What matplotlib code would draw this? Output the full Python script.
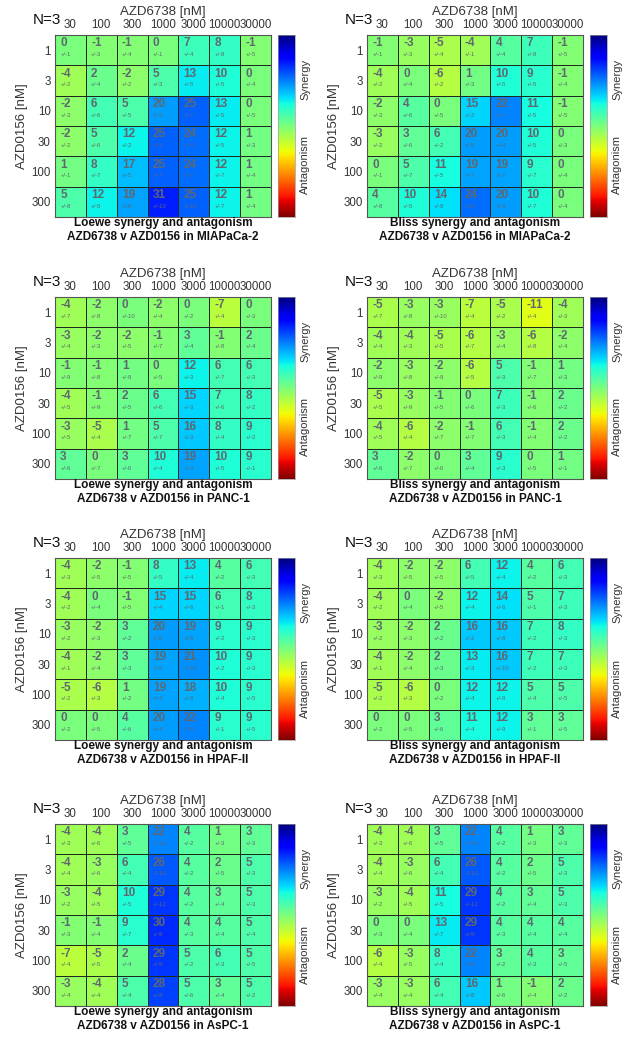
import numpy as np
import matplotlib
matplotlib.use('Agg')
import matplotlib.pyplot as plt

plt.rcParams['font.family'] = ['Liberation Sans', 'DejaVu Sans']

conc_x = ['30', '100', '300', '1000', '3000', '10000', '30000']
conc_y = ['1', '3', '10', '30', '100', '300']

# synergy scores (rows = AZD0156, cols = AZD6738) and their +/- errors
loewe_miapaca = [[0, -1, -1, 0, 7, 8, -1],
                 [-4, 2, -2, 5, 13, 10, 0],
                 [-2, 6, 5, 20, 25, 13, 0],
                 [-2, 5, 12, 25, 24, 12, 1],
                 [1, 8, 17, 25, 24, 12, 1],
                 [5, 12, 19, 31, 25, 12, 1]]
loewe_miapaca_err = [[1, 3, 4, 1, 4, 8, 5],
                     [2, 4, 2, 3, 5, 5, 4],
                     [3, 6, 5, 2, 7, 5, 5],
                     [2, 6, 2, 5, 4, 5, 3],
                     [1, 7, 5, 7, 7, 7, 4],
                     [8, 5, 8, 10, 10, 7, 4]]

bliss_miapaca = [[-1, -3, -5, -4, 4, 7, -1],
                 [-4, 0, -6, 1, 10, 9, -1],
                 [-2, 4, 0, 15, 22, 11, -1],
                 [-3, 3, 6, 20, 20, 10, 0],
                 [0, 5, 11, 19, 19, 9, 0],
                 [4, 10, 14, 24, 20, 10, 0]]
bliss_miapaca_err = [[1, 3, 4, 1, 4, 8, 5],
                     [2, 4, 2, 3, 5, 5, 4],
                     [3, 6, 5, 2, 7, 5, 5],
                     [2, 6, 2, 5, 4, 5, 3],
                     [1, 7, 5, 7, 7, 7, 4],
                     [8, 5, 8, 9, 9, 7, 4]]

loewe_panc = [[-4, -2, 0, -2, 0, -7, 0],
              [-3, -2, -2, -1, 3, -1, 2],
              [-1, -1, 1, 0, 12, 6, 6],
              [-4, -1, 2, 6, 15, 7, 8],
              [-3, -5, 1, 5, 16, 8, 9],
              [3, 0, 3, 10, 19, 10, 9]]
loewe_panc_err = [[7, 8, 10, 4, 2, 4, 3],
                  [4, 3, 5, 7, 4, 8, 4],
                  [9, 8, 9, 5, 3, 7, 3],
                  [5, 9, 5, 6, 3, 6, 2],
                  [5, 4, 7, 7, 3, 4, 2],
                  [6, 7, 6, 4, 3, 5, 1]]

bliss_panc = [[-5, -3, -3, -7, -5, -11, -4],
              [-4, -4, -5, -6, -3, -6, -2],
              [-2, -3, -2, -6, 5, -1, 1],
              [-5, -3, -1, 0, 7, -1, 2],
              [-4, -6, -2, -1, 6, -1, 2],
              [3, -2, 0, 3, 9, 0, 1]]
bliss_panc_err = [[7, 8, 10, 4, 2, 4, 3],
                  [4, 3, 5, 7, 4, 8, 4],
                  [9, 8, 9, 5, 3, 7, 3],
                  [5, 9, 5, 6, 3, 6, 2],
                  [5, 4, 7, 7, 3, 4, 2],
                  [6, 7, 6, 4, 3, 5, 1]]

loewe_hpaf = [[-4, -2, -1, 8, 13, 4, 6],
              [-4, 0, -1, 15, 15, 6, 8],
              [-3, -2, 3, 20, 19, 9, 9],
              [-4, -2, 3, 19, 21, 10, 9],
              [-5, -6, 1, 19, 18, 10, 9],
              [0, 0, 4, 20, 22, 9, 9]]
loewe_hpaf_err = [[3, 5, 5, 5, 4, 2, 3],
                  [2, 4, 5, 4, 6, 1, 3],
                  [2, 3, 2, 5, 6, 2, 3],
                  [1, 4, 3, 5, 10, 2, 3],
                  [2, 3, 2, 4, 9, 4, 5],
                  [2, 5, 6, 4, 9, 1, 5]]

bliss_hpaf = [[-4, -2, -2, 6, 12, 4, 6],
              [-4, 0, -2, 12, 14, 5, 7],
              [-3, -2, 2, 16, 16, 7, 8],
              [-4, -2, 2, 13, 16, 7, 7],
              [-5, -6, 0, 12, 12, 5, 5],
              [0, 0, 3, 11, 12, 3, 3]]
bliss_hpaf_err = [[3, 5, 5, 5, 4, 2, 3],
                  [2, 4, 5, 4, 6, 1, 3],
                  [2, 3, 2, 2, 8, 2, 3],
                  [1, 4, 3, 3, 10, 2, 3],
                  [2, 3, 2, 4, 9, 4, 5],
                  [2, 5, 6, 4, 9, 1, 5]]

loewe_aspc = [[-4, -4, 3, 22, 4, 1, 3],
              [-4, -3, 6, 26, 4, 2, 5],
              [-3, -4, 10, 29, 4, 3, 5],
              [-1, -1, 9, 30, 4, 4, 5],
              [-7, -5, 2, 29, 5, 6, 5],
              [-3, -4, 5, 28, 5, 3, 5]]
loewe_aspc_err = [[3, 6, 5, 10, 2, 3, 3],
                  [4, 6, 4, 10, 2, 5, 3],
                  [2, 5, 5, 12, 2, 4, 3],
                  [3, 4, 7, 9, 3, 4, 4],
                  [4, 5, 4, 9, 2, 3, 5],
                  [4, 4, 4, 8, 6, 4, 2]]

bliss_aspc = [[-4, -4, 3, 22, 4, 1, 3],
              [-4, -3, 6, 26, 4, 2, 5],
              [-3, -4, 11, 29, 4, 3, 5],
              [0, 0, 13, 29, 4, 4, 4],
              [-6, -3, 8, 22, 3, 4, 3],
              [-3, -3, 6, 16, 1, -1, 2]]
bliss_aspc_err = [[3, 6, 5, 10, 2, 3, 3],
                  [4, 6, 4, 10, 2, 5, 3],
                  [2, 5, 5, 12, 2, 4, 3],
                  [3, 4, 7, 9, 3, 4, 4],
                  [4, 5, 4, 9, 2, 3, 5],
                  [4, 4, 4, 8, 6, 4, 2]]

panels = [
    (loewe_miapaca, loewe_miapaca_err, 'Loewe', 'MIAPaCa-2'),
    (bliss_miapaca, bliss_miapaca_err, 'Bliss', 'MIAPaCa-2'),
    (loewe_panc, loewe_panc_err, 'Loewe', 'PANC-1'),
    (bliss_panc, bliss_panc_err, 'Bliss', 'PANC-1'),
    (loewe_hpaf, loewe_hpaf_err, 'Loewe', 'HPAF-II'),
    (bliss_hpaf, bliss_hpaf_err, 'Bliss', 'HPAF-II'),
    (loewe_aspc, loewe_aspc_err, 'Loewe', 'AsPC-1'),
    (bliss_aspc, bliss_aspc_err, 'Bliss', 'AsPC-1'),
]

W, H = 629, 1046
VMAX = 45
txt_col = '#5f6870'
lab_col = '#333333'

fig = plt.figure(figsize=(W / 100, H / 100), dpi=100)


def box(x0, y0, w, h):
    # pixel box (top-left origin) -> figure fraction
    return [x0 / W, 1 - (y0 + h) / H, w / W, h / H]


grid_left = [55, 367]
grid_top = [35, 297, 558, 824]
gw, gh = 216, 182

for i, (vals, errs, method, line) in enumerate(panels):
    x0 = grid_left[i % 2]
    y0 = grid_top[i // 2]
    vals = np.array(vals)
    errs = np.array(errs)

    ax = fig.add_axes(box(x0, y0, gw, gh))
    ax.pcolormesh(vals, cmap='jet_r', vmin=-VMAX, vmax=VMAX,
                  edgecolors='#1e2a1e', linewidth=0.7)
    ax.set_xlim(0, 7)
    ax.set_ylim(6, 0)
    for r in range(vals.shape[0]):
        for c in range(vals.shape[1]):
            ax.text(c + 0.17, r + 0.28, str(vals[r, c]), ha='left', va='center',
                    fontsize=8.5, fontweight='bold', color=txt_col)
            ax.text(c + 0.17, r + 0.64, '+/-%d' % errs[r, c], ha='left', va='center',
                    fontsize=4.3, color=txt_col)

    ax.xaxis.tick_top()
    ax.set_xticks(np.arange(7) + 0.5)
    ax.set_xticklabels(conc_x, fontsize=8.3, color=lab_col)
    ax.set_yticks(np.arange(6) + 0.5)
    ax.set_yticklabels(conc_y, fontsize=8.3, color=lab_col)
    ax.tick_params(length=0, pad=3)
    for s in ax.spines.values():
        s.set_color('#555555')
        s.set_linewidth(0.8)

    fig.text((x0 + gw / 2) / W, 1 - (y0 - 23) / H, 'AZD6738 [nM]',
             ha='center', va='center', fontsize=9.5, color=lab_col)
    fig.text((x0 - 22) / W, 1 - (y0 - 15) / H, 'N=3',
             ha='left', va='center', fontsize=11, color='#111111')
    fig.text((x0 - 33) / W, 1 - (y0 + gh / 2) / H, 'AZD0156 [nM]',
             ha='center', va='center', rotation=90, fontsize=9.5, color=lab_col)
    fig.text((x0 + gw / 2) / W, 1 - (y0 + gh + 13) / H,
             '%s synergy and antagonism\nAZD6738 v AZD0156 in %s' % (method, line),
             ha='center', va='center', fontsize=8.5, fontweight='bold',
             color='#111111', linespacing=1.25)

    # colour bar: synergy (blue) at top, antagonism (red) at bottom
    cax = fig.add_axes(box(x0 + gw + 7, y0, 17, gh))
    scale = np.linspace(VMAX, -VMAX, 256).reshape(-1, 1)
    cax.imshow(scale, cmap='jet_r', vmin=-VMAX, vmax=VMAX, aspect='auto')
    cax.set_xticks([])
    cax.set_yticks([])
    for s in cax.spines.values():
        s.set_color('#999999')
        s.set_linewidth(0.5)
    fig.text((x0 + gw + 34) / W, 1 - (y0 + 44) / H, 'Synergy', rotation=90,
             ha='center', va='center', fontsize=8, color=lab_col)
    fig.text((x0 + gw + 34) / W, 1 - (y0 + 130) / H, 'Antagonism', rotation=90,
             ha='center', va='center', fontsize=8, color=lab_col)

fig.savefig('out.png', dpi=100)
